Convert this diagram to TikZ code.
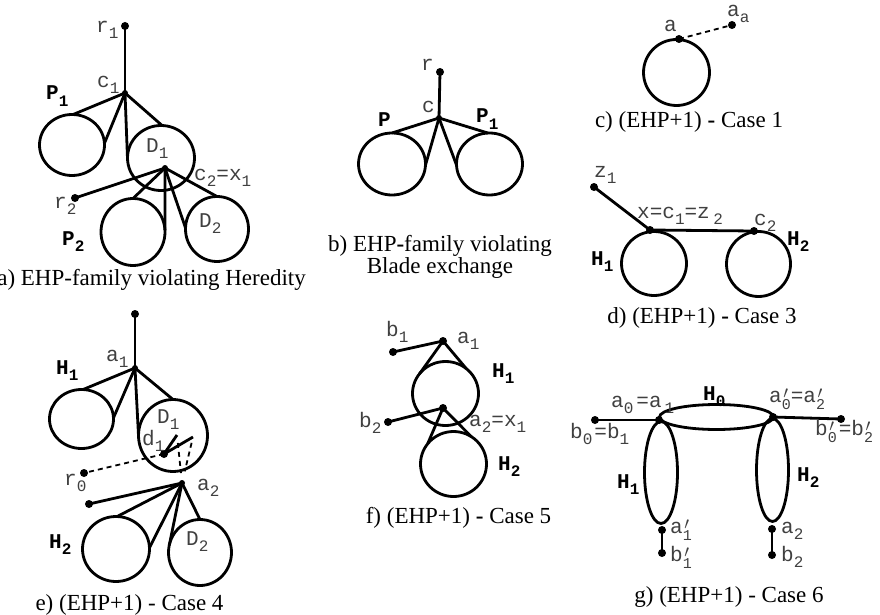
\documentclass[tikz,border=0pt]{standalone}
\usepackage{fontspec}
\setmainfont{Liberation Serif}
\newfontfamily\lmono{Liberation Mono}
\usetikzlibrary{shapes.geometric}
\newcommand\lsub[1]{\raisebox{-6pt}{\fontsize{16}{16}\selectfont #1}}
\newcommand\lprm[1]{\rlap{\raisebox{3.5pt}{\fontsize{16}{16}\selectfont\kern1.5pt$\prime$}}\raisebox{-7.5pt}{\fontsize{15}{15}\selectfont #1}}
\begin{document}
\begin{tikzpicture}[x=1pt,y=-1pt,
  oval/.style 2 args={ellipse,draw,line width=2.8pt,inner sep=0pt,outer sep=0pt,minimum width=#1,minimum height=#2},
  dot/.style={circle,fill,inner sep=0pt,minimum size=8pt},
  jdot/.style={circle,fill,inner sep=0pt,minimum size=6pt},
  edge/.style={line width=2.8pt},
  dedge/.style={line width=1.8pt,dash pattern=on 5pt off 4pt},
  lbl/.style={font=\fontsize{21}{21}\selectfont\lmono,text=black!75,inner sep=0pt,anchor=base west},
  blbl/.style={font=\fontsize{21}{21}\selectfont\lmono\bfseries,inner sep=0pt,anchor=base west},
  capt/.style={font=\fontsize{23}{20}\selectfont,inner sep=0pt,anchor=base}]
\useasboundingbox (0,0) rectangle (880,615);

% ---------- panel a ----------
\node[dot] (ar1) at (125,26) {};
\node[jdot] (ac1) at (125,93) {};
\node[oval={65pt}{61pt}] (aP1) at (72,145) {};
\node[oval={67pt}{65pt}] (aD1) at (161,158) {};
\node[jdot] (ac2) at (165,168) {};
\node[dot] (ar2) at (75,198) {};
\node[oval={64pt}{67pt}] (aP2) at (133,232) {};
\node[oval={63pt}{65pt}] (aD2) at (217,229) {};
\draw[edge] (ar1.center) -- (ac1.center);
\draw[edge] (ac1.center) -- (aP1.88);
\draw[edge] (ac1.center) -- (aP1.3);
\draw[edge] (ac1.center) -- (aD1.183);
\draw[edge] (ac1.center) -- (aD1.88);
\draw[edge] (ac2.center) -- (ar2.center);
\draw[edge] (ac2.center) -- (aP2.90);
\draw[edge] (ac2.center) -- (aP2.3);
\draw[edge] (ac2.center) -- (aD2.178);
\draw[edge] (ac2.center) -- (aD2.90);
\node[lbl] (lar1) at (96,33) {r\lsub{1}};
\node[lbl] (lac1) at (97,88) {c\lsub{1}};
\node[blbl] (laP1) at (46,100) {P\lsub{1}};
\node[lbl] (laD1) at (146,152) {D\lsub{1}};
\node[lbl] (lac2) at (194,180) {c\lsub{2}=x\lsub{1}};
\node[lbl] (lar2) at (54,208) {r\lsub{2}};
\node[blbl] (laP2) at (62,245) {P\lsub{2}};
\node[lbl] (laD2) at (199,227) {D\lsub{2}};
\node[capt,anchor=base east] (capa) at (306,285) {a) EHP-family violating Heredity};

% ---------- panel b ----------
\node[dot] (br) at (440,72) {};
\node[jdot] (bc) at (439,118) {};
\node[oval={67pt}{62pt}] (bP) at (392,164) {};
\node[oval={66pt}{62pt}] (bP1) at (489.5,164) {};
\draw[edge] (br.center) -- (bc.center);
\draw[edge] (bc.center) -- (bP.90);
\draw[edge] (bc.center) -- (bP.358);
\draw[edge] (bc.center) -- (bP1.182);
\draw[edge] (bc.center) -- (bP1.93);
\node[lbl] (lbr) at (421,71) {r};
\node[lbl] (lbc) at (422,113) {c};
\node[blbl] (lbP) at (378,126) {P};
\node[blbl] (lbP1) at (476,123) {P\lsub{1}};
\node[capt,anchor=center,align=center] (capb) at (440,257) {b) EHP\textbf{-}family violating\\Blade exchange};

% ---------- panel c ----------
\node[oval={66pt}{66pt}] (cH) at (676.5,72.5) {};
\node[dot] (ca) at (679,39) {};
\node[dot] (caa) at (732,25) {};
\draw[dedge] (ca.center) -- (caa.center);
\node[lbl] (lca) at (664,32) {a};
\node[lbl] (lcaa) at (727,17) {a\lsub{a}};
\node[capt] (capc) at (689,128) {c) (EHP+1) \textbf{-} Case 1};

% ---------- panel d ----------
\node[oval={65pt}{64pt}] (dH1) at (654,263.5) {};
\node[oval={64pt}{65pt}] (dH2) at (758.5,264) {};
\node[dot] (dz1) at (594,187) {};
\node[dot] (dx) at (650,230) {};
\node[dot] (dc2) at (754,231) {};
\draw[edge] (dz1.center) -- (dx.center);
\draw[edge] (dx.center) -- (dc2.center);
\node[lbl] (ldz1) at (594,177) {z\lsub{1}};
\node[lbl] (ldx) at (637,218) {x=c\lsub{1}=z\,\lsub{2}};
\node[lbl] (ldc2) at (754,225) {c\lsub{2}};
\node[blbl] (ldH2) at (787,245) {H\lsub{2}};
\node[blbl] (ldH1) at (591,265) {H\lsub{1}};
\node[capt] (capd) at (702,323) {d) (EHP+1) \textbf{-} Case 3};

% ---------- panel e ----------
\node[dot] (etop) at (135,314) {};
\node[jdot] (ea1) at (135,368) {};
\node[oval={64pt}{59pt}] (eH1) at (81.5,419) {};
\node[oval={69pt}{72pt}] (eD1) at (173,435.5) {};
\node[dot] (ed1) at (164,454) {};
\coordinate (eu) at (177,435);
\coordinate (ev) at (193,437);
\node[dot] (er0) at (84,473) {};
\node[jdot] (ea2) at (182,483) {};
\node[dot] (eb) at (89,504) {};
\node[oval={67pt}{65pt}] (eH2) at (116,549) {};
\node[oval={63pt}{66pt}] (eD2) at (200,552.5) {};
\draw[edge] (etop.center) -- (ea1.center);
\draw[edge] (ea1.center) -- (eH1.87);
\draw[edge] (ea1.center) -- (eH1.2);
\draw[edge] (ea1.center) -- (eD1.180);
\draw[edge] (ea1.center) -- (eD1.90);
\draw[edge] (ed1.center) -- (eu);
\draw[edge] (ed1.center) -- (ev);
\draw[dedge] (ed1.center) -- (er0.center);
\draw[dedge,shorten <=8pt,shorten >=10pt] (eu) -- (ea2.center);
\draw[dedge,shorten <=6pt,shorten >=12pt] (ev) -- (ea2.center);
\draw[edge] (ea2.center) -- (eb.center);
\draw[edge] (ea2.center) -- (eH2.88);
\draw[edge] (ea2.center) -- (eH2.2);
\draw[edge] (ea2.center) -- (eD2.167);
\draw[edge] (ea2.center) -- (eD2.90);
\node[lbl] (lea1) at (106,361) {a\lsub{1}};
\node[blbl] (leH1) at (56,374) {H\lsub{1}};
\node[lbl] (leD1) at (157,423) {D\lsub{1}};
\node[lbl] (led1) at (142,445) {d\lsub{1}};
\node[lbl] (ler0) at (64,485) {r\lsub{0}};
\node[lbl] (lea2) at (197,490) {a\lsub{2}};
\node[blbl] (leH2) at (49,548) {H\lsub{2}};
\node[lbl] (leD2) at (186,545) {D\lsub{2}};
\node[capt] (cape) at (129.5,610) {e) (EHP+1) - Case 4};

% ---------- panel f ----------
\node[oval={66pt}{64pt}] (fH1) at (445.5,393.5) {};
\node[oval={66pt}{65pt}] (fH2) at (453.5,464) {};
\node[dot] (fb1) at (393,352) {};
\node[dot] (fa1) at (443,341) {};
\node[dot] (fb2) at (388,422) {};
\node[dot] (fa2) at (443,408) {};
\draw[edge] (fb1.center) -- (fa1.center);
\draw[edge] (fa1.center) -- (fH1.143);
\draw[edge] (fa1.center) -- (fH1.50);
\draw[edge] (fb2.center) -- (fa2.center);
\draw[edge] (fa2.center) -- (fH2.142);
\draw[edge] (fa2.center) -- (fH2.57);
\node[lbl] (lfb1) at (386,336) {b\lsub{1}};
\node[lbl] (lfa1) at (457,343) {a\lsub{1}};
\node[blbl] (lfH1) at (492,377) {H\lsub{1}};
\node[lbl] (lfb2) at (359,427) {b\lsub{2}};
\node[lbl] (lfa2) at (469,426) {a\lsub{2}=x\lsub{1}};
\node[blbl] (lfH2) at (498,470) {H\lsub{2}};
\node[capt] (capf) at (458.5,523) {f) (EHP+1) \textbf{-} Case 5};

% ---------- panel g ----------
\node[oval={114pt}{25pt}] (gH0) at (716.5,417) {};
\node[oval={33pt}{102pt}] (gH1) at (661,472.5) {};
\node[oval={32pt}{103pt}] (gH2) at (772.5,470) {};
\node[dot] (ga0) at (659,420) {};
\node[dot] (gb0) at (595,420) {};
\node[dot] (gA0) at (773,417) {};
\node[dot] (gB0) at (841,419) {};
\node[dot] (ga1) at (662,530) {};
\node[dot] (gb1) at (662,553) {};
\node[dot] (ga2) at (772,529) {};
\node[dot] (gb2) at (772,555) {};
\draw[edge] (gb0.center) -- (ga0.center);
\draw[edge] (gA0.center) -- (gB0.center);
\draw[edge] (ga1.center) -- (gb1.center);
\draw[edge] (ga2.center) -- (gb2.center);
\node[lbl] (lga0) at (611,407) {a\lsub{0}\kern3pt=a\kern3pt\lsub{1}};
\node[blbl] (lgH0) at (703,400) {H\lsub{0}};
\node[lbl] (lgb0) at (570,438) {b\lsub{0}\kern2pt=b\lsub{1}};
\node[lbl] (lgA0) at (769,402) {a\lprm{0}=a\lprm{2}};
\node[lbl] (lgB0) at (815,435) {b\lprm{0}\kern2pt=b\lprm{2}};
\node[blbl] (lgH1) at (617,488) {H\lsub{1}};
\node[blbl] (lgH2) at (797,481) {H\lsub{2}};
\node[lbl] (lga1) at (670,533) {a\lprm{1}};
\node[lbl] (lgb1) at (670,561) {b\lprm{1}};
\node[lbl] (lga2) at (781,533) {a\lsub{2}};
\node[lbl] (lgb2) at (781,561) {b\lsub{2}};
\node[capt] (capg) at (729,602) {g) (EHP+1) - Case 6};
\end{tikzpicture}
\end{document}
